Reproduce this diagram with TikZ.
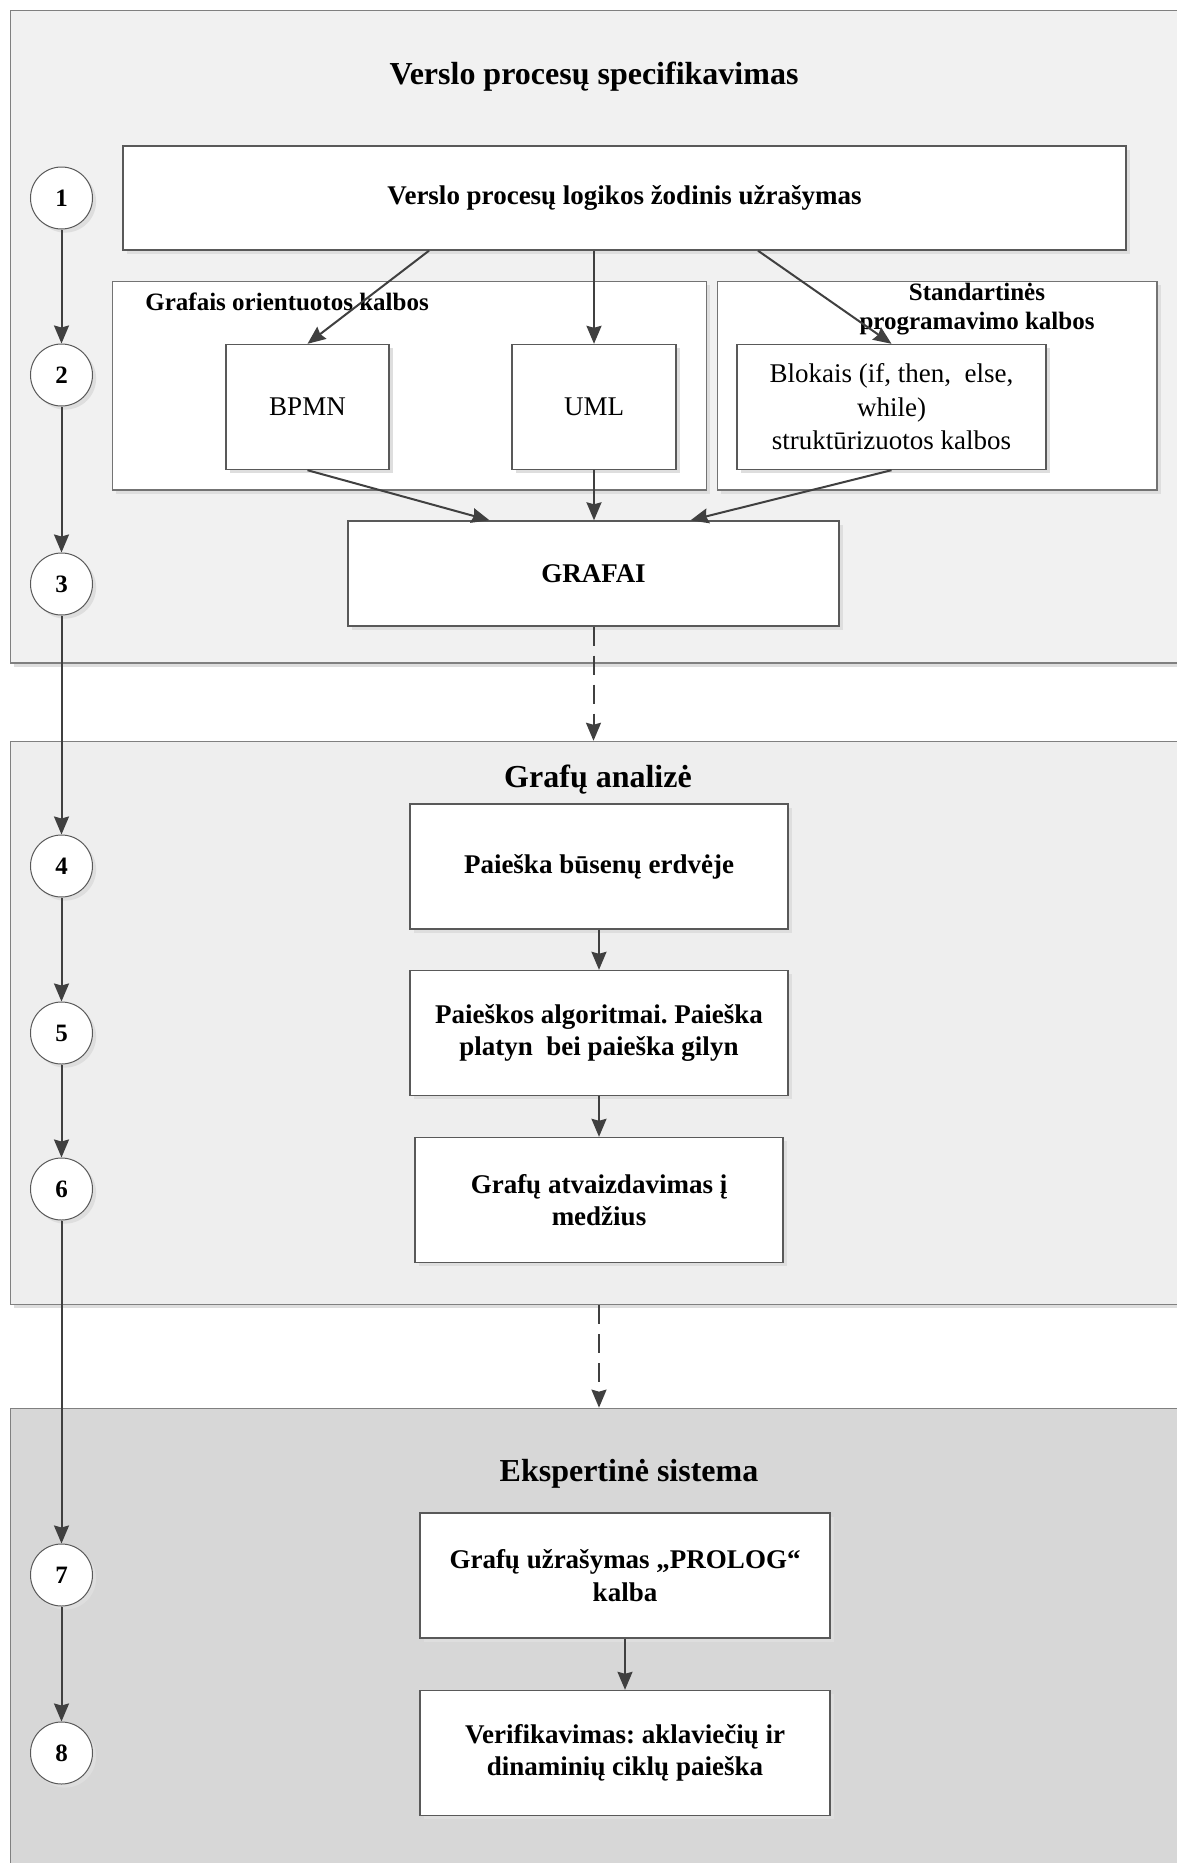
\documentclass[tikz,border=0pt]{standalone}
\usepackage{fontspec}
\setmainfont{Liberation Serif}
\usetikzlibrary{arrows.meta,shadows,calc}
\frenchspacing

\definecolor{paneA}{HTML}{F1F1F1}
\definecolor{paneB}{HTML}{EEEEEE}
\definecolor{paneC}{HTML}{D7D7D7}
\definecolor{edge}{HTML}{808080}
\definecolor{ink}{HTML}{404040}

\tikzset{
  softshadow/.style={drop shadow={shadow xshift=1.8pt, shadow yshift=-1.8pt, fill=black!13, opacity=1}},
  pane/.style={draw=edge, line width=0.75pt, inner sep=0pt, softshadow},
  grp/.style={draw=black!55, fill=white, line width=0.7pt, inner sep=0pt, softshadow},
  box/.style={draw=black!65, fill=white, line width=0.7pt, align=center, inner sep=0pt,
    softshadow, font=\fontsize{13.5}{16.3}\selectfont\bfseries},
  plainbox/.style={box, font=\fontsize{13.5}{16.8}\selectfont},
  grplabel/.style={font=\fontsize{12.5}{15}\selectfont\bfseries, inner sep=0pt, align=center},
  num/.style={circle, draw=black!65, fill=white, minimum size=31pt, inner sep=0pt,
    line width=0.5pt, softshadow, font=\fontsize{12.5}{14}\selectfont\bfseries},
  flow/.style={draw=ink, line width=1pt, -{Stealth[length=9pt,width=7.5pt,inset=1pt]}},
  hop/.style={flow, dash pattern=on 9.5pt off 5pt},
  head/.style={font=\fontsize{16}{19}\selectfont\bfseries, inner sep=0pt},
}

\begin{document}
\begin{tikzpicture}[x=0.5pt, y=-0.5pt]
\useasboundingbox (0,0) rectangle (1177,1863);
\clip (0,0) rectangle (1177,1863);

% background panels
\node[pane, fill=paneA, minimum width=594.75pt, minimum height=326.25pt] (p1) at (605.25,336.75) {};
\node[pane, fill=paneB, minimum width=594.75pt, minimum height=281.5pt] (p2) at (605.25,1023) {};
\node[pane, fill=paneC, minimum width=594.75pt, minimum height=245.8pt] (p3) at (605.25,1654.2) {};

% panel titles
\node[head, anchor=base] (t1) at (594,84) {Verslo procesų specifikavimas};
\node[head, anchor=base] (t2) at (598,787.5) {Grafų analizė};
\node[head, anchor=base] (t3) at (629,1481) {Ekspertinė sistema};

% language groups
\node[grp, minimum width=296.95pt, minimum height=104.15pt] (gl) at (409.55,385.85) {};
\node[grp, minimum width=219.65pt, minimum height=104.15pt] (gr) at (937.35,385.85) {};
\node[grplabel, anchor=base west] (gll) at (145,310) {Grafais orientuotos kalbos};
\node[grplabel, anchor=base] (grl1) at (977,300) {Standartinės};
\node[grplabel, anchor=base] (grl2) at (977,329.5) {programavimo kalbos};

% process steps
\node[box, minimum width=501.5pt, minimum height=52pt] (b1) at (624.5,198) {Verslo procesų logikos žodinis užrašymas};
\node[plainbox, minimum width=81.5pt, minimum height=62.5pt] (bpmn) at (307.5,407) {BPMN};
\node[plainbox, minimum width=82pt, minimum height=62.5pt] (uml) at (594,407) {UML};
\node[plainbox, minimum width=154.5pt, minimum height=62.5pt] (blk) at (891.5,407)
  {Blokais (if, then,\ \ else,\\while)\\struktūrizuotos kalbos};
\node[box, minimum width=245.5pt, minimum height=52.5pt] (graf) at (593.5,573.5) {GRAFAI};

\node[box, minimum width=189pt, minimum height=62.5pt] (b4) at (599,866.5) {Paieška būsenų erdvėje};
\node[box, minimum width=189pt, minimum height=62.5pt] (b5) at (599,1033)
  {Paieškos algoritmai. Paieška\\platyn\ \ bei paieška gilyn};
\node[box, minimum width=184pt, minimum height=62.5pt] (b6) at (599,1200)
  {Grafų atvaizdavimas į\\medžius};
\node[box, minimum width=205pt, minimum height=62.5pt] (b7) at (625,1575.5)
  {Grafų užrašymas „PROLOG“\\kalba};
\node[box, minimum width=205pt, minimum height=62.5pt] (b8) at (625,1753)
  {Verifikavimas: aklaviečių ir\\dinaminių ciklų paieška};

% numbered stages
\node[num] (c1) at (61.5,198) {1};
\node[num] (c2) at (61.5,375) {2};
\node[num] (c3) at (61.5,584) {3};
\node[num] (c4) at (61.5,866) {4};
\node[num] (c5) at (61.5,1033) {5};
\node[num] (c6) at (61.5,1189) {6};
\node[num] (c7) at (61.5,1575) {7};
\node[num] (c8) at (61.5,1753) {8};

% stage sequence
\draw[flow] (c1.south) -- (c2.north);
\draw[flow] (c2.south) -- (c3.north);
\draw[flow] (c3.south) -- (c4.north);
\draw[flow] (c4.south) -- (c5.north);
\draw[flow] (c5.south) -- (c6.north);
\draw[flow] (c6.south) -- (c7.north);
\draw[flow] (c7.south) -- (c8.north);

% specification flow
\draw[flow] ([xshift=-97.75pt]b1.south) -- (bpmn.north);
\draw[flow] ([xshift=-15.25pt]b1.south) -- (uml.north);
\draw[flow] ([xshift=66.75pt]b1.south) -- (blk.north);
\draw[flow] (bpmn.south) -- ([xshift=-52pt]graf.north);
\draw[flow] (uml.south) -- (uml.south |- graf.north);
\draw[flow] (blk.south) -- ([xshift=48.5pt]graf.north);

% hand-over between panels
\draw[hop] (graf.south) -- (graf.south |- p2.north);
\draw[flow] (b4.south) -- (b5.north);
\draw[flow] (b5.south) -- (b6.north);
\draw[hop] (b6.south |- p2.south) -- (b6.south |- p3.north);
\draw[flow] (b7.south) -- (b8.north);
\end{tikzpicture}
\end{document}
